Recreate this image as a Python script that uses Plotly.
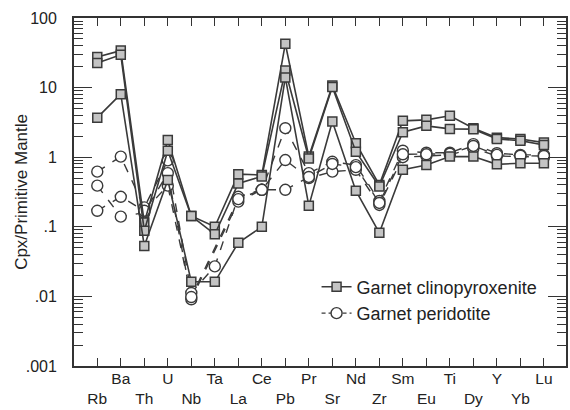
import plotly.graph_objects as go

elements = ["Rb", "Ba", "Th", "U", "Nb", "Ta", "La", "Ce", "Pb", "Pr",
            "Sr", "Nd", "Zr", "Sm", "Eu", "Ti", "Dy", "Y", "Yb", "Lu"]

# Garnet clinopyroxenite (squares, solid)
cpx_1 = [27.5, 34, 0.115, 1.77, 0.143, 0.10, 0.57, 0.556, 42.7, 1.02,
         10.7, 1.59, 0.40, 3.33, 3.44, 3.93, 2.61, 1.91, 1.83, 1.62]
cpx_2 = [22.5, 29.6, 0.088, 1.24, 0.143, 0.078, 0.42, 0.53, 17.6, 0.96,
         10.2, 1.20, 0.38, 2.29, 2.82, 2.55, 2.53, 1.83, 1.73, 1.50]
cpx_3 = [3.7, 8.05, 0.053, 0.47, 0.0162, 0.0162, 0.059, 0.10, 14.0, 0.20,
         3.25, 0.33, 0.082, 0.66, 0.77, 1.02, 1.02, 0.79, 0.82, 0.82]

# Garnet peridotite (circles, dashed)
per_1 = [0.62, 1.02, 0.19, 0.90, 0.0112, 0.027, 0.27, 0.34, 2.61, 0.59,
         0.86, 0.77, 0.235, 1.24, 1.16, 1.16, 1.54, 1.14, 1.08, 1.08]
per_2 = [0.39, 0.14, 0.16, 0.59, 0.0091, None, 0.23, 0.34, 0.91, 0.50,
         0.62, 0.66, 0.206, 1.00, 1.04, 1.08, 1.35, 1.04, 1.02, 1.00]
per_3 = [0.17, 0.27, 0.17, 0.39, 0.0098, None, 0.25, 0.34, 0.34, 0.52,
         0.80, 0.72, 0.22, 1.10, 1.10, 1.12, 1.45, 1.08, 1.05, 1.04]

ytick_vals = [0.001, 0.01, 0.1, 1, 10, 100]
ytick_text = [".001", ".01", ".1", "1", "10", "100"]

LINE = "#3a3a3a"
xs = list(range(len(elements)))
xtick_text = [("<br>" + e) if i % 2 == 0 else e for i, e in enumerate(elements)]

fig = go.Figure()

for i, s in enumerate([per_1, per_2, per_3]):
    fig.add_trace(go.Scatter(
        x=xs, y=s, mode="lines+markers", connectgaps=True,
        name="Garnet peridotite", showlegend=False,
        line=dict(color=LINE, width=1.4, dash="dash"),
        marker=dict(symbol="circle", size=11, color="white",
                    line=dict(color=LINE, width=1.4)),
    ))

for i, s in enumerate([cpx_1, cpx_2, cpx_3]):
    fig.add_trace(go.Scatter(
        x=xs, y=s, mode="lines+markers",
        name="Garnet clinopyroxenite", showlegend=False,
        line=dict(color=LINE, width=1.6),
        marker=dict(symbol="square", size=9, color="#c4c4c4",
                    line=dict(color=LINE, width=1.5)),
    ))

# legend entries
fig.add_trace(go.Scatter(
    x=[None], y=[None], mode="lines+markers", name="Garnet clinopyroxenite",
    line=dict(color=LINE, width=1.6),
    marker=dict(symbol="square", size=9, color="#c4c4c4",
                line=dict(color=LINE, width=1.5)),
))
fig.add_trace(go.Scatter(
    x=[None], y=[None], mode="lines+markers", name="Garnet peridotite",
    line=dict(color=LINE, width=1.4, dash="4px,3px"),
    marker=dict(symbol="circle", size=11, color="white",
                line=dict(color=LINE, width=1.4)),
))

fig.update_layout(
    width=570, height=410,
    margin=dict(l=74, r=2, t=18, b=44),
    paper_bgcolor="white", plot_bgcolor="white",
    font=dict(family="Liberation Sans, Arial, sans-serif", color="#222", size=16),
    showlegend=True,
    legend=dict(x=0.493, y=0.28, xanchor="left", yanchor="top",
                bgcolor="rgba(0,0,0,0)", font=dict(size=18),
                tracegroupgap=0, itemwidth=30),
    xaxis=dict(
        range=[-0.99, 19.94], tickmode="array", tickvals=xs, ticktext=xtick_text,
        tickangle=0, ticklabelstandoff=-3,
        ticks="inside", ticklen=8, tickwidth=1.3, tickcolor="#333",
        showline=True, linecolor="#333", linewidth=1.8, mirror="allticks",
        showgrid=False, zeroline=False, tickfont=dict(size=15.5),
    ),
    yaxis=dict(
        type="log", range=[-3, 2], tickmode="array",
        tickvals=ytick_vals, ticktext=ytick_text,
        ticks="inside", ticklen=18, tickwidth=1.3, tickcolor="#333",
        minor=dict(ticks="inside", ticklen=9, tickwidth=1.1, tickcolor="#333",
                   dtick="D1", showgrid=False),
        showline=True, linecolor="#333", linewidth=1.8, mirror="allticks",
        showgrid=False, zeroline=False, tickfont=dict(size=16),
        ticklabelstandoff=12,
    ),
    annotations=[dict(
        text="Cpx/Primitive Mantle", xref="paper", yref="paper",
        x=-0.108, y=0.5, textangle=-90, showarrow=False,
        font=dict(size=17), xanchor="center", yanchor="middle",
    )],
)

fig.write_html("out.html", config={"displayModeBar": False},
               post_script="document.body.style.margin='0';")
